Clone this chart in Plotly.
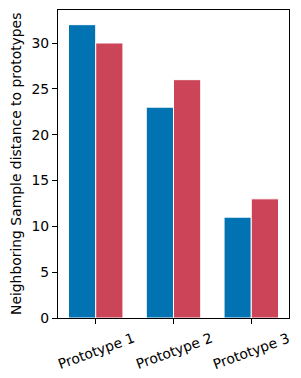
import plotly.graph_objects as go

categories = ["Prototype 1", "Prototype 2", "Prototype 3"]
series_a = [32, 23, 11]
series_b = [30, 26, 13]
y_ticks = [0, 5, 10, 15, 20, 25, 30]
y_label = "Neighboring Sample distance to prototypes"

blue = "#0173B2"
red = "#CC4458"
font = dict(family="DejaVu Sans", size=13.9, color="black")

xs = list(range(len(categories)))

fig = go.Figure()
fig.add_trace(go.Bar(x=xs, y=series_a, marker=dict(color=blue, line=dict(color="white", width=1)), showlegend=False))
fig.add_trace(go.Bar(x=xs, y=series_b, marker=dict(color=red, line=dict(color="white", width=1)), showlegend=False))

for i, c in enumerate(categories):
    fig.add_annotation(x=i, y=0, xref="x", yref="paper", text=c, showarrow=False,
                       textangle=-20, xanchor="center", yanchor="top", yshift=-9,
                       font=font)

fig.add_annotation(x=0, y=0.5, xref="paper", yref="paper", text=y_label, showarrow=False,
                   textangle=-90, xanchor="center", yanchor="middle", xshift=-42, font=font)

fig.update_layout(
    width=301, height=378,
    margin=dict(l=58, r=12, t=10, b=60),
    paper_bgcolor="white", plot_bgcolor="white",
    barmode="group", bargap=0.3, bargroupgap=0,
    font=font,
    xaxis=dict(range=[-0.485, 2.485], tickvals=xs, showticklabels=False,
               ticks="outside", ticklen=5, tickwidth=1.1, tickcolor="black",
               showline=True, linecolor="black", linewidth=1.1, mirror=True,
               showgrid=False, zeroline=False),
    yaxis=dict(range=[0, 33.6], tickvals=y_ticks, ticktext=[str(v) for v in y_ticks],
               ticks="outside", ticklen=5, tickwidth=1.1, tickcolor="black",
               showline=True, linecolor="black", linewidth=1.1, mirror=True,
               showgrid=False, zeroline=False, tickfont=font),
)

fig.write_html("out.html", config={"displayModeBar": False},
               post_script="document.body.style.margin='0';document.body.style.padding='0';document.body.style.overflow='hidden';")
